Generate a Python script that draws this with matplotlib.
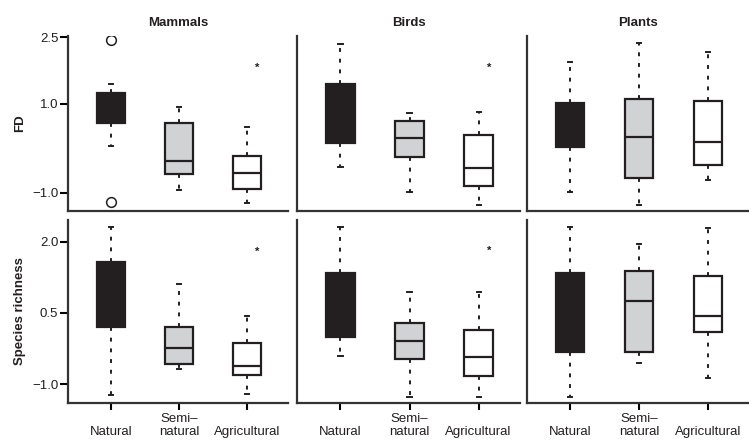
import matplotlib.pyplot as plt
import numpy as np

plt.rcParams['font.family'] = ['Liberation Sans', 'DejaVu Sans']

# categories and panel labels
categories = ['Natural', 'Semi-natural', 'Agricultural']
tick_labels = ['\nNatural', 'Semi\u2013\nnatural', '\nAgricultural']
taxa = ['Mammals', 'Birds', 'Plants']
metrics = ['FD', 'Species richness']

# box stats per group: (whislo, q1, med, q3, whishi) for Natural, Semi, Agri
mammals_fd = [(0.05, 0.57, 0.90, 1.25, 1.45),
              (-0.94, -0.58, -0.29, 0.57, 0.93),
              (-1.23, -0.92, -0.56, -0.17, 0.48)]
birds_fd = [(-0.42, 0.12, 0.80, 1.45, 2.35),
            (-0.99, -0.20, 0.23, 0.62, 0.80),
            (-1.28, -0.85, -0.44, 0.30, 0.82)]
plants_fd = [(-0.98, 0.03, 0.50, 1.03, 1.95),
             (-1.28, -0.67, 0.26, 1.11, 2.38),
             (-0.72, -0.38, 0.14, 1.07, 2.17)]
mammals_sr = [(-1.23, 0.20, 0.90, 1.58, 2.31),
              (-0.68, -0.58, -0.24, 0.20, 1.11),
              (-1.21, -0.81, -0.62, -0.13, 0.44)]
birds_sr = [(-0.41, -0.01, 0.70, 1.34, 2.31),
            (-1.27, -0.47, -0.09, 0.29, 0.94),
            (-1.27, -0.83, -0.43, 0.14, 0.94)]
plants_sr = [(-1.27, -0.32, 0.50, 1.34, 2.31),
             (-0.56, -0.32, 0.75, 1.39, 1.96),
             (-0.87, 0.09, 0.44, 1.28, 2.29)]

# outliers (open circles) for mammal FD, natural group
mammals_fd_outliers = [2.44, -1.21]
# significance stars above the agricultural box: (row, col, y)
stars = [(0, 0, 1.81), (1, 0, 1.79), (0, 1, 1.81), (1, 1, 1.81)]

stats = [[mammals_fd, birds_fd, plants_fd],
         [mammals_sr, birds_sr, plants_sr]]
fliers = [[[mammals_fd_outliers, [], []], [[], [], []], [[], [], []]],
          [[[], [], []], [[], [], []], [[], [], []]]]

ylims = [(-1.415, 2.53), (-1.40, 2.46)]
yticks = [[2.5, 1.0, -1.0], [2.0, 0.5, -1.0]]
fills = ['#231f20', '#d1d2d4', 'white']
ink = '#231f20'

W, H = 749, 441
fig = plt.figure(figsize=(W / 100, H / 100), dpi=100)

# panel pixel boxes (left, width), (top, bottom)
cols_px = [(68, 220), (297, 223), (527, 222)]
rows_px = [(36, 211), (220, 403)]

for r in range(2):
    for c in range(3):
        x0, w = cols_px[c]
        top, bot = rows_px[r]
        ax = fig.add_axes([x0 / W, 1 - bot / H, w / W, (bot - top) / H])
        bxp_stats = []
        for i, s in enumerate(stats[r][c]):
            bxp_stats.append(dict(whislo=s[0], q1=s[1], med=s[2], q3=s[3],
                                  whishi=s[4], fliers=fliers[r][c][i]))
        parts = ax.bxp(bxp_stats, positions=[1, 2, 3], widths=0.41,
                       patch_artist=True, capwidths=0.06,
                       boxprops=dict(edgecolor=ink, linewidth=1.6),
                       medianprops=dict(color=ink, linewidth=1.6),
                       whiskerprops=dict(color=ink, linewidth=1.4, linestyle=(0, (2, 3.5))),
                       capprops=dict(color=ink, linewidth=1.4),
                       flierprops=dict(marker='o', markerfacecolor='white',
                                       markeredgecolor=ink, markersize=7,
                                       markeredgewidth=1.1))
        for patch, col in zip(parts['boxes'], fills):
            patch.set_facecolor(col)

        for sr, sc, sy in stars:
            if sr == r and sc == c:
                ax.text(3.15, sy, '*', ha='center', va='center',
                        fontsize=8, fontweight='bold', color=ink)

        ax.set_xlim(0.37, 3.6)
        ax.set_ylim(*ylims[r])
        for side in ['top', 'right']:
            ax.spines[side].set_visible(False)
        for side in ['left', 'bottom']:
            ax.spines[side].set_linewidth(1.6)
            ax.spines[side].set_color('#333333')

        if r == 1:
            ax.set_xticks([1, 2, 3])
            ax.set_xticklabels(tick_labels, fontsize=9.5, color=ink, linespacing=1.15)
            ax.tick_params(axis='x', direction='out', length=5, width=1.5, pad=2)
        else:
            ax.set_xticks([])
            ax.set_title(taxa[c], fontsize=9.5, fontweight='bold', color=ink, pad=7)

        if c == 0:
            ax.set_yticks(yticks[r])
            ax.set_yticklabels(['%.1f' % v if v >= 0 else '\u2212%.1f' % -v for v in yticks[r]],
                               fontsize=9.5, color=ink)
            ax.tick_params(axis='y', direction='out', length=6, width=1.5, pad=1)
            ax.set_ylabel(metrics[r], fontsize=9.5, fontweight='bold', color=ink)
            ax.yaxis.set_label_coords(-0.19, 0.5)
        else:
            ax.set_yticks([])

fig.savefig('out.png', dpi=100)
